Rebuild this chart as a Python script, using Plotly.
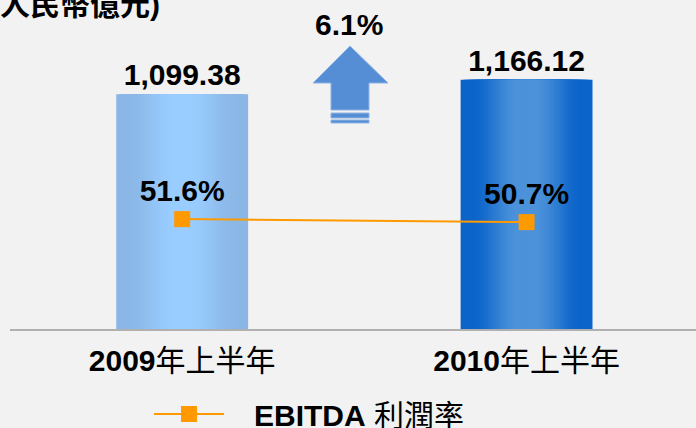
import re
import plotly.graph_objects as go

# ---- data ----
categories = ["2009年上半年", "2010年上半年"]
revenue = [1099.38, 1166.12]          # 人民幣億元
ebitda_margin = [51.6, 50.7]          # %
series_name = "EBITDA 利潤率"
unit_label = "(人民幣億元)"

W, H = 696, 428
ML, MR, MT, MB = 10, 0, 0, 99
PW, PH = W - ML - MR, H - MT - MB

LATIN = "Liberation Sans, Arial, Noto Sans CJK TC, sans-serif"


def bold_latin(s):
    return re.sub(r"([0-9A-Za-z.,%]+)", r"<b>\1</b>", s)


def px2paper(x, y):
    return (x - ML) / PW, 1 - (y - MT) / PH


def lerp(c1, c2, t):
    a = [int(c1[i:i + 2], 16) for i in (1, 3, 5)]
    b = [int(c2[i:i + 2], 16) for i in (1, 3, 5)]
    return "#" + "".join(f"{round(a[i] + (b[i] - a[i]) * t):02x}" for i in range(3))


edge_cols = ["#8ab7e6", "#0b64c9"]
center_cols = ["#99ccff", "#4b92da"]
full_w = 0.383
N = 22

fig = go.Figure()
for k in range(N):
    d = 1 - k / N  # normalized half-width of this layer (1 = edge)
    t = min(1.0, max(0.0, (d - 0.15) / 0.7))
    t = t * t * (3 - 2 * t)
    cols = [lerp(center_cols[i], edge_cols[i], t) for i in range(2)]
    fig.add_trace(go.Bar(
        x=categories, y=revenue, width=full_w * d,
        marker=dict(color=cols, line=dict(width=0)),
        text=[f"{v:,.2f}" for v in revenue] if k == 0 else None,
        texttemplate="<b>%{text}</b>" if k == 0 else None,
        textposition="outside" if k == 0 else "none",
        textfont=dict(family=LATIN, size=30, color="#000000"),
        cliponaxis=False,
        showlegend=False, hoverinfo="skip",
    ))

fig.add_trace(go.Scatter(
    x=categories, y=ebitda_margin, yaxis="y2", name=series_name,
    mode="lines+markers+text",
    line=dict(color="#ff9900", width=2),
    marker=dict(symbol="square", size=16, color="#ff9900"),
    text=[f"<b>{v:.1f}%</b>" for v in ebitda_margin],
    textposition="top center",
    textfont=dict(family=LATIN, size=30, color="#000000"),
    cliponaxis=False,
))

growth = (revenue[1] / revenue[0] - 1) * 100

# arrow decoration (pixel geometry)
pts_arrow = [(350, 46), (388, 83), (369, 83), (369, 110), (331, 110), (331, 83), (313, 83)]
def path_of(pts):
    p = [px2paper(*q) for q in pts]
    return "M" + " L".join(f"{a:.5f},{b:.5f}" for a, b in p) + " Z"

shapes = [
    dict(type="path", xref="paper", yref="paper", path=path_of(pts_arrow),
         fillcolor="#558ed5", line=dict(color="#8fb4e3", width=1)),
]
for y0, y1 in [(113, 118), (120, 123)]:
    x0p, y0p = px2paper(331, y0)
    x1p, y1p = px2paper(369, y1)
    shapes.append(dict(type="rect", xref="paper", yref="paper", x0=x0p, x1=x1p, y0=y1p, y1=y0p,
                       fillcolor="#558ed5", line=dict(color="#8fb4e3", width=1)))

gx, gy = px2paper(349, 24)
ux, uy = px2paper(162, 4)
annotations = [
    dict(xref="paper", yref="paper", x=gx, y=gy, xanchor="center", yanchor="middle",
         text=f"<b>{growth:.1f}%</b>", showarrow=False,
         font=dict(family=LATIN, size=30, color="#000000")),
    dict(xref="paper", yref="paper", x=ux, y=uy, xanchor="right", yanchor="middle",
         text=f"<b>{unit_label}</b>", showarrow=False,
         font=dict(family=LATIN, size=30, color="#000000")),
]

fig.update_layout(
    width=W, height=H,
    margin=dict(l=ML, r=MR, t=MT, b=MB),
    paper_bgcolor="#f2f2f2", plot_bgcolor="#f2f2f2",
    barmode="overlay",
    font=dict(family=LATIN, color="#000000"),
    xaxis=dict(type="category", range=[-0.5, 1.492], showline=True, linecolor="#b0b0b0",
               linewidth=2, showgrid=False, zeroline=False, ticks="",
               tickmode="array", tickvals=categories,
               ticktext=[bold_latin(c) for c in categories],
               tickfont=dict(family=LATIN, size=30, color="#000000"),
               ticklabelstandoff=4),
    yaxis=dict(range=[0, 1540], visible=False),
    yaxis2=dict(range=[18.6, 117.4], overlaying="y", visible=False),
    showlegend=True,
    legend=dict(orientation="h", xref="container", yref="container",
                x=149 / W, y=1 - 414 / H, xanchor="left", yanchor="middle",
                itemwidth=70, bgcolor="rgba(0,0,0,0)",
                font=dict(family=LATIN, size=30, color="#000000")),
    shapes=shapes, annotations=annotations,
)
fig.data[-1].name = "\u00a0\u00a0\u00a0" + bold_latin(series_name)

fig.write_html("out.html", config={"displayModeBar": False},
               post_script="document.body.style.margin='0';document.body.style.background='#f2f2f2';")
